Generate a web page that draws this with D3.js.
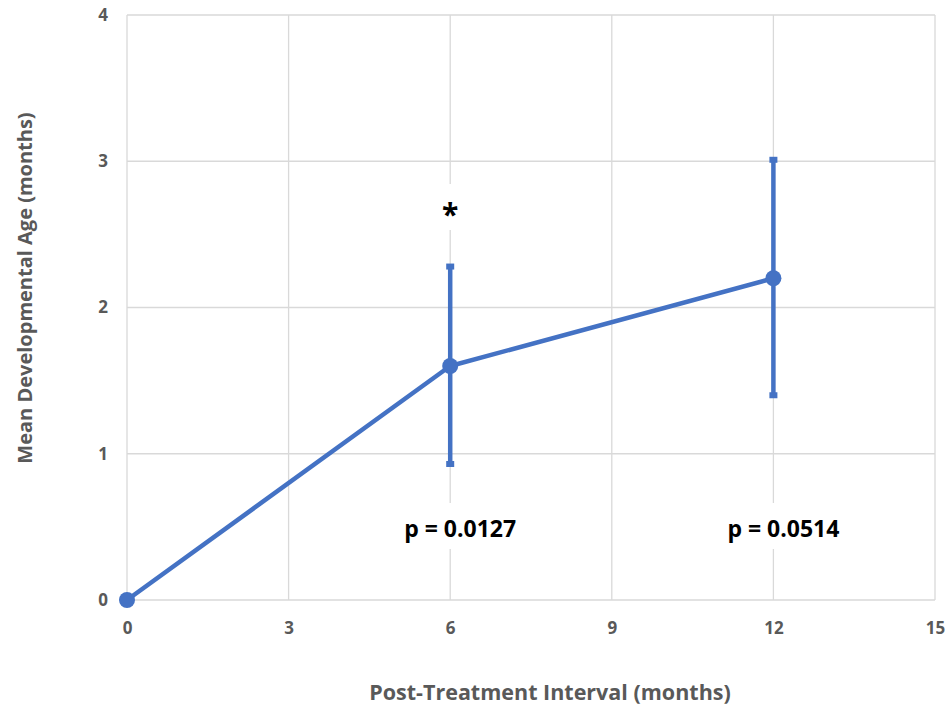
<!DOCTYPE html>
<html><head><meta charset="utf-8">
<script src="https://cdn.jsdelivr.net/npm/d3@7"></script>
<style>body{margin:0;background:#fff}svg{display:block}</style>
</head><body>
<svg id="c" width="950" height="708"></svg>
<script>
const months = [0, 6, 12];
const meanAge = [0, 1.6, 2.2];
const errLow = [null, 0.93, 1.40];
const errHigh = [null, 2.28, 3.01];
const xTicks = [0, 3, 6, 9, 12, 15];
const yTicks = [0, 1, 2, 3, 4];
const annotations = [
  {x: 6, text: "*", kind: "star"},
  {x: 6, text: "p = 0.0127", kind: "p"},
  {x: 12, text: "p = 0.0514", kind: "p"}
];

const svg = d3.select("#c");
const x = d3.scaleLinear().domain([0, 15]).range([127, 935]);
const y = d3.scaleLinear().domain([0, 4]).range([600, 15]);
const grid = "#d9d9d9", blue = "#4472C4", gray = "#595959";
const font = "'Open Sans', sans-serif";

// gridlines
svg.append("g").selectAll("line").data(xTicks).join("line")
  .attr("x1", d => x(d)).attr("x2", d => x(d)).attr("y1", y(4)).attr("y2", y(0))
  .attr("stroke", grid).attr("stroke-width", 1.3);
svg.append("g").selectAll("line").data(yTicks).join("line")
  .attr("x1", x(0)).attr("x2", x(15)).attr("y1", d => y(d)).attr("y2", d => y(d))
  .attr("stroke", grid).attr("stroke-width", 1.3);

// axes labels via d3 axes
const xAxis = svg.append("g").attr("transform", `translate(0,${y(0)})`)
  .call(d3.axisBottom(x).tickValues(xTicks).tickFormat(d3.format("d")).tickSize(0).tickPadding(22));
xAxis.select(".domain").remove();
xAxis.selectAll("text").attr("fill", gray).style("font", `bold 17px ${font}`);
const yAxis = svg.append("g").attr("transform", `translate(${x(0)},0)`)
  .call(d3.axisLeft(y).tickValues(yTicks).tickFormat(d3.format("d")).tickSize(0).tickPadding(19));
yAxis.select(".domain").remove();
yAxis.selectAll("text").attr("fill", gray).style("font", `bold 17px ${font}`);

// annotations with white background
annotations.forEach(a => {
  const g = svg.append("g");
  if (a.kind === "star") {
    g.append("rect").attr("x", x(a.x) - 12).attr("y", 184).attr("width", 24).attr("height", 46).attr("fill", "#fff");
    g.append("text").attr("x", x(a.x)).attr("y", 225).attr("text-anchor", "middle")
      .attr("fill", "#000").style("font", `bold 30px ${font}`).text(a.text);
  } else {
    const cx = x(a.x) + 10;
    g.append("rect").attr("x", cx - 64).attr("y", 503).attr("width", 128).attr("height", 46).attr("fill", "#fff");
    g.append("text").attr("x", cx).attr("y", 537).attr("text-anchor", "middle")
      .attr("fill", "#000").style("font", `bold 23px ${font}`).text(a.text);
  }
});

const pts = months.map((m, i) => ({m, v: meanAge[i], lo: errLow[i], hi: errHigh[i]}));

// line
svg.append("path").datum(pts)
  .attr("d", d3.line().x(d => x(d.m)).y(d => y(d.v)))
  .attr("fill", "none").attr("stroke", blue).attr("stroke-width", 4.5).attr("stroke-linejoin", "round");

// error bars
const eb = pts.filter(d => d.lo !== null);
svg.append("g").selectAll("line").data(eb).join("line")
  .attr("x1", d => x(d.m)).attr("x2", d => x(d.m)).attr("y1", d => y(d.lo)).attr("y2", d => y(d.hi))
  .attr("stroke", blue).attr("stroke-width", 4.5);
svg.append("g").selectAll("rect").data(eb.flatMap(d => [{m: d.m, v: d.lo}, {m: d.m, v: d.hi}])).join("rect")
  .attr("x", d => x(d.m) - 4).attr("y", d => y(d.v) - 3).attr("width", 8).attr("height", 6).attr("fill", blue);

// markers
svg.append("g").selectAll("circle").data(pts).join("circle")
  .attr("cx", d => x(d.m)).attr("cy", d => y(d.v)).attr("r", 8).attr("fill", blue);

// axis titles
svg.append("text").attr("x", 550).attr("y", 700).attr("text-anchor", "middle")
  .attr("fill", gray).style("font", `bold 21.5px ${font}`).text("Post-Treatment Interval (months)");
svg.append("text").attr("transform", "translate(32,288) rotate(-90)").attr("text-anchor", "middle")
  .attr("fill", gray).style("font", `bold 20px ${font}`).text("Mean Developmental Age (months)");
</script>
</body></html>
